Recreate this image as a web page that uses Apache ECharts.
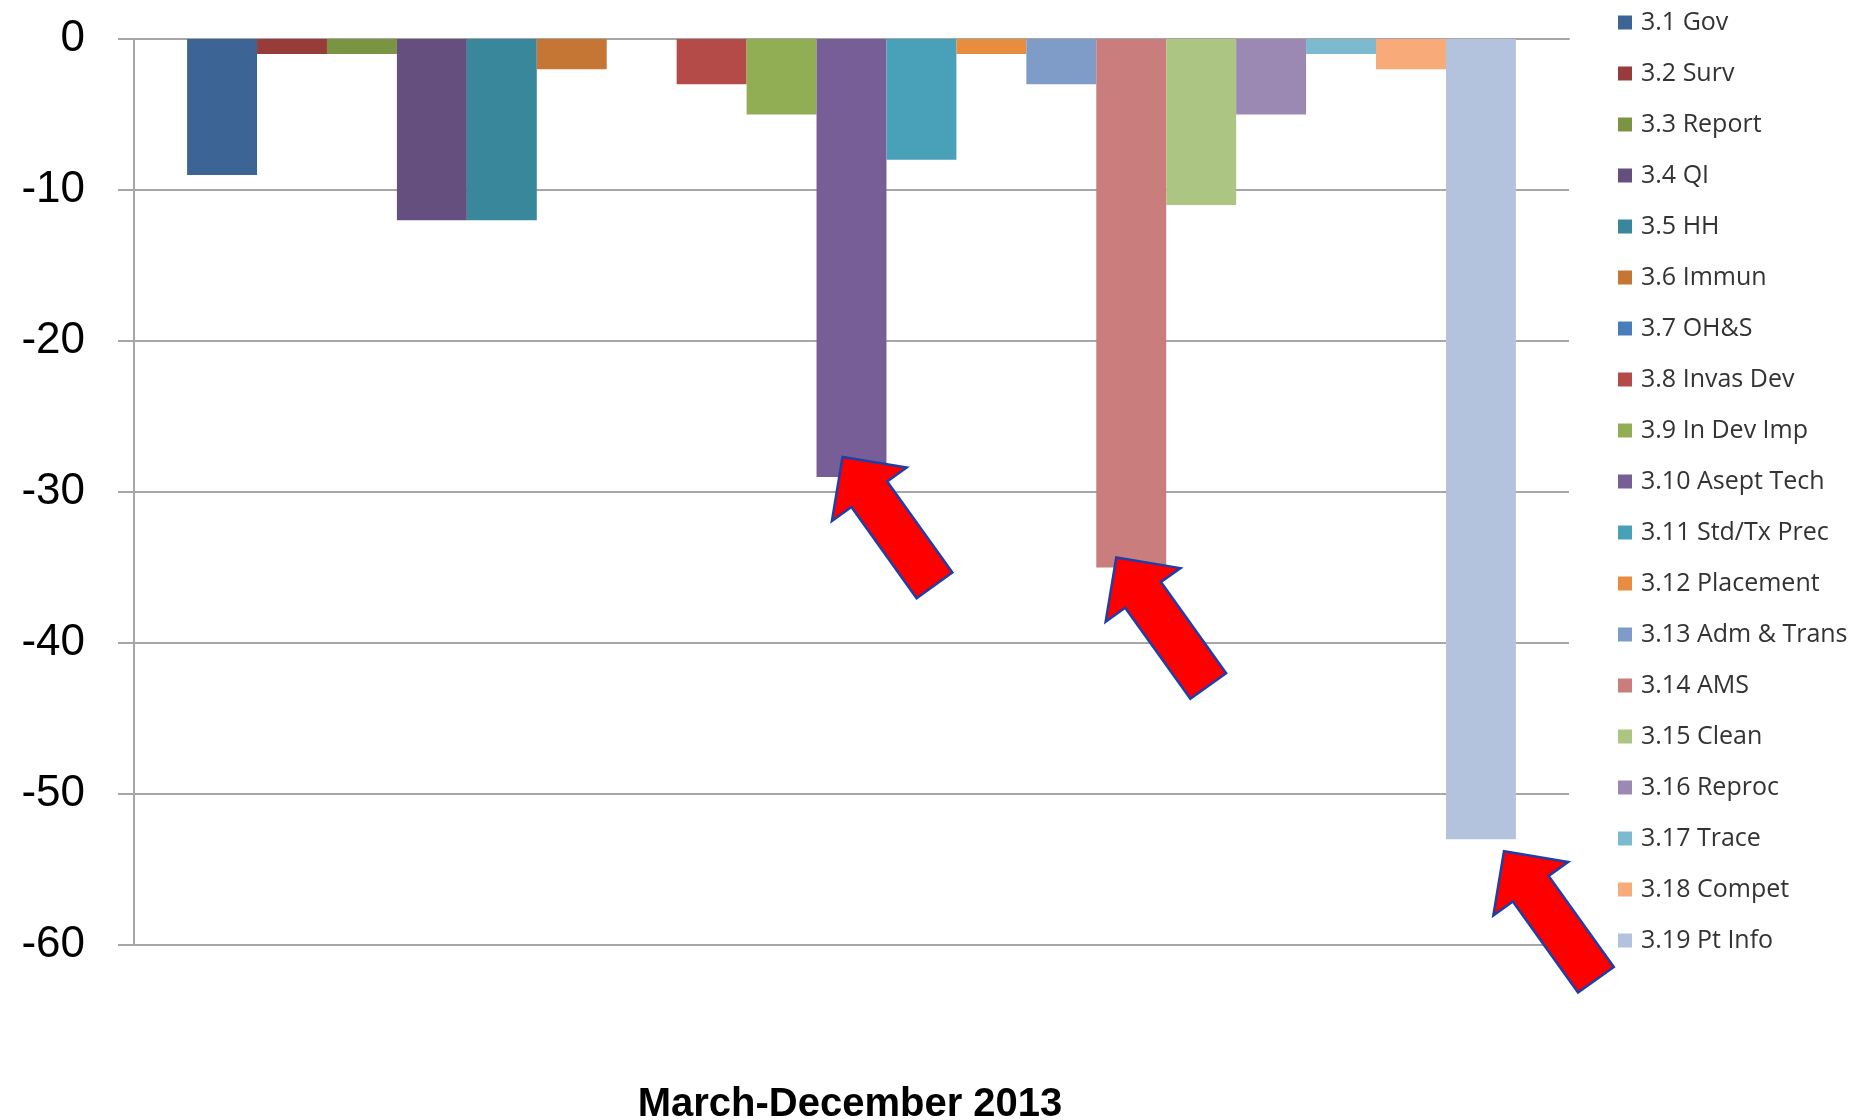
<!DOCTYPE html>
<html>
<head>
<meta charset="utf-8">
<script src="https://cdn.jsdelivr.net/npm/echarts@6/dist/echarts.min.js"></script>
<style>
    html, body { margin: 0; padding: 0; background: #fff; }
    #chart { width: 1855px; height: 1120px; }
</style>
</head>
<body>
<div id="chart"></div>
<script>
var categories = ['March-December 2013'];
var seriesNames = ['3.1 Gov', '3.2 Surv', '3.3 Report', '3.4 QI', '3.5 HH', '3.6 Immun', '3.7 OH&S',
    '3.8 Invas Dev', '3.9 In Dev Imp', '3.10 Asept Tech', '3.11 Std/Tx Prec', '3.12 Placement',
    '3.13 Adm & Trans', '3.14 AMS', '3.15 Clean', '3.16 Reproc', '3.17 Trace', '3.18 Compet', '3.19 Pt Info'];
var seriesValues = [-9, -1, -1, -12, -12, -2, 0, -3, -5, -29, -8, -1, -3, -35, -11, -5, -1, -2, -53];
var seriesColors = ['#3c6495', '#983c3a', '#7a9441', '#644f7e', '#38879a', '#c57634', '#4a7ebb',
    '#b44b48', '#92ae55', '#785e96', '#48a1b9', '#e88c40', '#7f9bc8', '#c97d7c', '#adc583',
    '#9c89b3', '#7bbacf', '#f8aa79', '#b3c3dd'];
var yTicks = [-60, -50, -40, -30, -20, -10, 0];

// arrows point at these bars: [series index, x offset inside bar, y offset from bar end]
var arrowTargets = [[9, 26, -20], [13, 20, -10], [18, 58, 12]];

var gridLeft = 134, gridRight = 286, gridTop = 39, gridBottom = 175;
var catGap = 0.074;

var chart = echarts.init(document.getElementById('chart'));

function buildSeries() {
    var serie = [];
    for (var i = 0; i < seriesNames.length; i++) {
        serie.push({
            name: seriesNames[i],
            type: 'bar',
            barGap: '0%',
            barCategoryGap: (catGap * 100) + '%',
            itemStyle: { color: seriesColors[i] },
            data: [seriesValues[i]]
        });
    }
    return serie;
}

chart.setOption({
    animation: false,
    title: {
        text: categories[0],
        left: 845,
        top: 1080,
        textAlign: 'center',
        textStyle: { fontFamily: 'Liberation Sans', fontWeight: 'bold', fontSize: 40, color: '#000' }
    },
    legend: {
        data: seriesNames,
        orient: 'vertical',
        left: 1618,
        top: 10,
        padding: 0,
        itemWidth: 14,
        itemHeight: 14,
        itemGap: 26,
        icon: 'rect',
        selectedMode: false,
        textStyle: {
            fontFamily: 'Open Sans',
            fontSize: 25,
            lineHeight: 24,
            color: '#333',
            padding: [0, 0, 0, 4]
        }
    },
    grid: { left: gridLeft, right: gridRight, top: gridTop, bottom: gridBottom },
    xAxis: {
        type: 'category',
        data: categories,
        axisLine: { lineStyle: { color: '#a6a6a6', width: 2 } },
        axisTick: { length: 14, lineStyle: { color: '#a6a6a6', width: 2 } },
        axisLabel: { show: false }
    },
    yAxis: {
        type: 'value',
        min: yTicks[0],
        max: yTicks[yTicks.length - 1],
        interval: 10,
        axisLine: { show: true, lineStyle: { color: '#a6a6a6', width: 2 } },
        axisTick: { show: true, length: 16, lineStyle: { color: '#a6a6a6', width: 2 } },
        axisLabel: { margin: 49, fontFamily: 'Liberation Sans', fontSize: 44, color: '#000' },
        splitLine: { lineStyle: { color: '#a6a6a6', width: 2 } }
    },
    series: buildSeries()
});

// red block arrows, tip placed on the bar end through the axes
function arrowPoints(tx, ty) {
    var d = [0.582, 0.813], n = [-0.813, 0.582];
    var h = 46, hw = 46, sw = 22, len = 158;
    function p(a, b) { return [tx + d[0] * a + n[0] * b, ty + d[1] * a + n[1] * b]; }
    return [p(0, 0), p(h, hw), p(h, sw), p(len, sw), p(len, -sw), p(h, -sw), p(h, -hw)];
}

function drawArrows() {
    var center = chart.convertToPixel({ xAxisIndex: 0 }, categories[0]);
    var bandW = chart.getWidth() - gridLeft - gridRight;
    var barW = bandW * (1 - catGap) / seriesNames.length;
    var groupLeft = center - bandW * (1 - catGap) / 2;
    var shapes = [];
    for (var i = 0; i < arrowTargets.length; i++) {
        var idx = arrowTargets[i][0];
        var tx = groupLeft + idx * barW + arrowTargets[i][1];
        var ty = chart.convertToPixel({ yAxisIndex: 0 }, seriesValues[idx]) + arrowTargets[i][2];
        shapes.push({
            type: 'polygon',
            z: 100,
            shape: { points: arrowPoints(tx, ty) },
            style: { fill: '#ff0000', stroke: '#1f3fa8', lineWidth: 2.5 }
        });
    }
    chart.setOption({ graphic: shapes });
}

drawArrows();
</script>
</body>
</html>
